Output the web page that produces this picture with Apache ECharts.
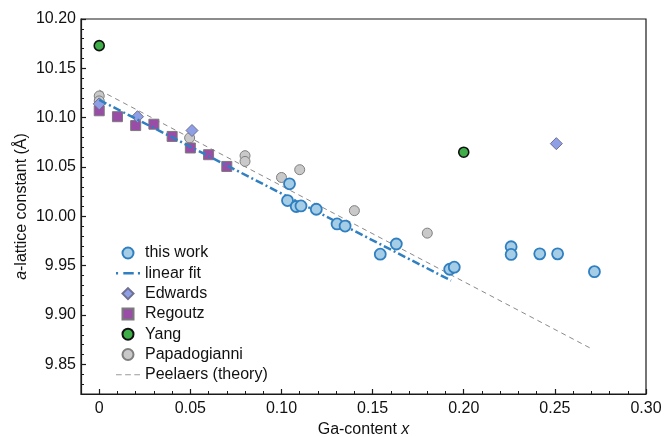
<!DOCTYPE html>
<html><head><meta charset="utf-8">
<script src="https://cdn.jsdelivr.net/npm/echarts@6/dist/echarts.min.js"></script>
<style>html,body{margin:0;padding:0;background:#fff}#c{width:664px;height:437px}</style>
</head><body><div id="c"></div>
<script>
// ---- data ----
const thisWorkX = [0.1033, 0.1044, 0.1081, 0.1107, 0.1191, 0.1305, 0.1349, 0.1542, 0.1630, 0.1923, 0.1948, 0.2260, 0.2260, 0.2417, 0.2515, 0.2717];
const thisWorkY = [10.016, 10.033, 10.010, 10.0106, 10.0072, 9.9923, 9.9902, 9.9617, 9.972, 9.9464, 9.9485, 9.9692, 9.9614, 9.962, 9.962, 9.944];
const fitX = [0, 0.193];
const fitY = [10.118, 9.935];
const edwardsX = [0, 0.021, 0.0509, 0.2508];
const edwardsY = [10.114, 10.101, 10.087, 10.0737];
const regoutzX = [0, 0.01, 0.02, 0.03, 0.04, 0.05, 0.06, 0.07];
const regoutzY = [10.107, 10.101, 10.092, 10.0934, 10.081, 10.0693, 10.0625, 10.0506];
const yangX = [0, 0.2];
const yangY = [10.173, 10.065];
const papaX = [0, 0, 0.0496, 0.08, 0.08, 0.10, 0.11, 0.14, 0.18];
const papaY = [10.122, 10.117, 10.0795, 10.0615, 10.0557, 10.0394, 10.0473, 10.0058, 9.983];
const peelaersX = [0, 0.271];
const peelaersY = [10.128, 9.865];
const xTicks = [0, 0.05, 0.10, 0.15, 0.20, 0.25, 0.30];
const yTicks = [9.85, 9.90, 9.95, 10.00, 10.05, 10.10, 10.15, 10.20];
const legendNames = ['this work', 'linear fit', 'Edwards', 'Regoutz', 'Yang', 'Papadogianni', 'Peelaers (theory)'];

const zip = (a, b) => a.map((v, i) => [v, b[i]]);
const FONT = 'Liberation Sans, Arial, Helvetica, sans-serif';
const GRID = {left: 81, right: 18, top: 19, bottom: 43};
const GW = 664 - GRID.left - GRID.right;
const GH = 437 - GRID.top - GRID.bottom;
const AX = '#1a1a1a';

const ICON = {
  circle: 'path://M0,7a7,7 0 1,0 14,0a7,7 0 1,0 -14,0z',
  rect: 'path://M0,0h14v14h-14z',
  diamond: 'path://M7,0L14,7L7,14L0,7z',
  dashdot: 'path://M0,0h2v2.5h-2z M7,0h10v2.5h-10z M21,0h2v2.5h-2z',
  dashed: 'path://M0,0h5v1h-5z M8,0h5v1h-5z M16,0h5v1h-5z'
};
const legendIcons = [ICON.circle, ICON.dashdot, ICON.diamond, ICON.rect, ICON.circle, ICON.circle, ICON.dashed];

const chart = echarts.init(document.getElementById('c'), null, {renderer: 'canvas'});
chart.setOption({
  animation: false,
  backgroundColor: '#fff',
  textStyle: {fontFamily: FONT},
  grid: Object.assign({show: true, borderColor: AX, borderWidth: 1.2, backgroundColor: 'transparent',
    containLabel: false, outerBoundsMode: 'none'}, GRID),
  legend: {
    orient: 'vertical', left: 116, top: 245, padding: 0,
    itemWidth: 24, itemHeight: 11, itemGap: 4.3, symbolKeepAspect: true,
    textStyle: {fontSize: 16, color: '#111', fontFamily: FONT},
    data: legendNames.map((n, i) => ({name: n, icon: legendIcons[i]}))
  },
  xAxis: [{
    type: 'value', min: -0.01, max: 0.30, position: 'bottom',
    axisLine: {show: true, onZero: false, lineStyle: {color: AX, width: 1.2}},
    axisTick: {show: true, inside: true, length: 5, customValues: xTicks, lineStyle: {color: AX, width: 1.2}},
    axisLabel: {customValues: xTicks, fontSize: 16, color: '#111', margin: 7, fontFamily: FONT,
      formatter: v => (Math.abs(v) < 1e-9 ? '0' : v.toFixed(2))},
    splitLine: {show: false},
    name: 'Ga-content {i|x}', nameLocation: 'middle', nameGap: 28, nameMoveOverlap: false,
    nameTextStyle: {fontSize: 16, color: '#111', fontFamily: FONT, rich: {i: {fontStyle: 'italic', fontSize: 16, color: '#111', fontFamily: FONT}}}
  }, {
    type: 'value', min: -0.01, max: 0.30, interval: 0.01, position: 'top', offset: -GH,
    axisLine: {show: false, onZero: false},
    axisTick: {show: true, inside: false, length: 3, lineStyle: {color: AX, width: 1}},
    axisLabel: {show: false}, splitLine: {show: false}
  }],
  yAxis: [{
    type: 'value', min: 9.82, max: 10.20, position: 'left',
    axisLine: {show: true, onZero: false, lineStyle: {color: AX, width: 1.2}},
    axisTick: {show: true, inside: true, length: 5, customValues: yTicks, lineStyle: {color: AX, width: 1.2}},
    axisLabel: {customValues: yTicks, fontSize: 16, color: '#111', margin: 5, fontFamily: FONT,
      formatter: v => v.toFixed(2)},
    splitLine: {show: false},
    name: '{i|a}-lattice constant (Å)', nameLocation: 'middle', nameGap: 51, nameMoveOverlap: false,
    nameTextStyle: {fontSize: 16, color: '#111', fontFamily: FONT, rich: {i: {fontStyle: 'italic', fontSize: 16, color: '#111', fontFamily: FONT}}}
  }, {
    type: 'value', min: 9.82, max: 10.20, interval: 0.01, position: 'right', offset: -GW,
    axisLine: {show: false, onZero: false},
    axisTick: {show: true, inside: false, length: 3, lineStyle: {color: AX, width: 1}},
    axisLabel: {show: false}, splitLine: {show: false}
  }],
  series: [
    {name: 'Peelaers (theory)', type: 'line', z: 1, data: zip(peelaersX, peelaersY), symbol: 'none',
      lineStyle: {color: '#8a8a8a', width: 1, type: [5, 4]}, itemStyle: {color: '#9a9a9a'}},
    {name: 'Papadogianni', type: 'scatter', z: 2, data: zip(papaX, papaY), symbol: 'circle', symbolSize: 10,
      itemStyle: {color: '#c9c9c9', borderColor: '#7f7f7f', borderWidth: 1, opacity: 1}},
    {name: 'Regoutz', type: 'scatter', z: 3, data: zip(regoutzX, regoutzY), symbol: 'rect', symbolSize: 10,
      itemStyle: {color: '#9a4da6', borderColor: '#7a7a7a', borderWidth: 1, opacity: 1}},
    {name: 'Edwards', type: 'scatter', z: 4, data: zip(edwardsX, edwardsY), symbol: 'diamond', symbolSize: 12,
      itemStyle: {color: '#8e9fe6', borderColor: '#6f6f8f', borderWidth: 1, opacity: 1}},
    {name: 'Yang', type: 'scatter', z: 5, data: zip(yangX, yangY), symbol: 'circle', symbolSize: 10,
      itemStyle: {color: '#3fae49', borderColor: '#111', borderWidth: 1.6, opacity: 1}},
    {name: 'linear fit', type: 'line', z: 6, data: zip(fitX, fitY), symbol: 'none',
      lineStyle: {color: '#2f7fc1', width: 2.5, type: [8, 3, 2, 3]}, itemStyle: {color: '#2f7fc1'}},
    {name: 'this work', type: 'scatter', z: 7, data: zip(thisWorkX, thisWorkY), symbol: 'circle', symbolSize: 11,
      itemStyle: {color: '#a5cde6', borderColor: '#2f7fc1', borderWidth: 1.8, opacity: 1}}
  ]
});
</script></body></html>
